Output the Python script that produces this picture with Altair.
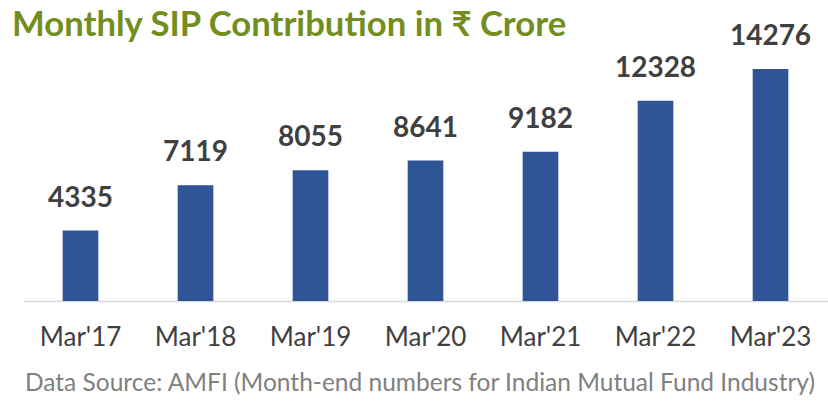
import altair as alt
import pandas as pd

months = ["Mar'17", "Mar'18", "Mar'19", "Mar'20", "Mar'21", "Mar'22", "Mar'23"]
sip = [4335, 7119, 8055, 8641, 9182, 12328, 14276]
title_text = "Monthly SIP Contribution in ₹ Crore"
footer_text = "Data Source: AMFI (Month-end numbers for Indian Mutual Fund Industry)"

FONT = "Lato"
df = pd.DataFrame({"month": months, "sip": sip})

x = alt.X("month:N", sort=months, title=None,
          scale=alt.Scale(paddingInner=0.69, paddingOuter=0.345),
          axis=alt.Axis(labelAngle=0, labelFontSize=26, labelColor="#404040",
                        labelFont=FONT, labelPadding=23, ticks=False,
                        domainColor="#d9d9d9", domainWidth=1.5))
y = alt.Y("sip:Q", title=None, scale=alt.Scale(domain=[0, 15450], nice=False),
          axis=None)

base = alt.Chart(df).encode(x=x, y=y)
bars = base.mark_bar(color="#2F5597")
labels = base.mark_text(baseline="bottom", dy=-18, fontSize=28, fontWeight="bold",
                        color="#404040", font=FONT).encode(text="sip:Q")

title = alt.Chart(pd.DataFrame({"t": [title_text]})).mark_text(
    align="left", baseline="alphabetic", fontSize=34.7, fontWeight="bold",
    color="#728E1E", font=FONT
).encode(text="t:N", x=alt.value(-11), y=alt.value(-14))

footer = alt.Chart(pd.DataFrame({"t": [footer_text]})).mark_text(
    align="center", baseline="middle", fontSize=24.5, color="#808080", font=FONT
).encode(text="t:N", x=alt.value(397), y=alt.value(334))

chart = alt.layer(bars, labels, title, footer).properties(
    width=805, height=251,
    background="white",
    autosize=alt.AutoSizeParams(type="none"),
    padding={"left": 23, "top": 50, "right": 0, "bottom": 102},
).configure_view(stroke="transparent", strokeWidth=0)

chart.save("out.html", embed_options={"renderer": "svg", "actions": False})
